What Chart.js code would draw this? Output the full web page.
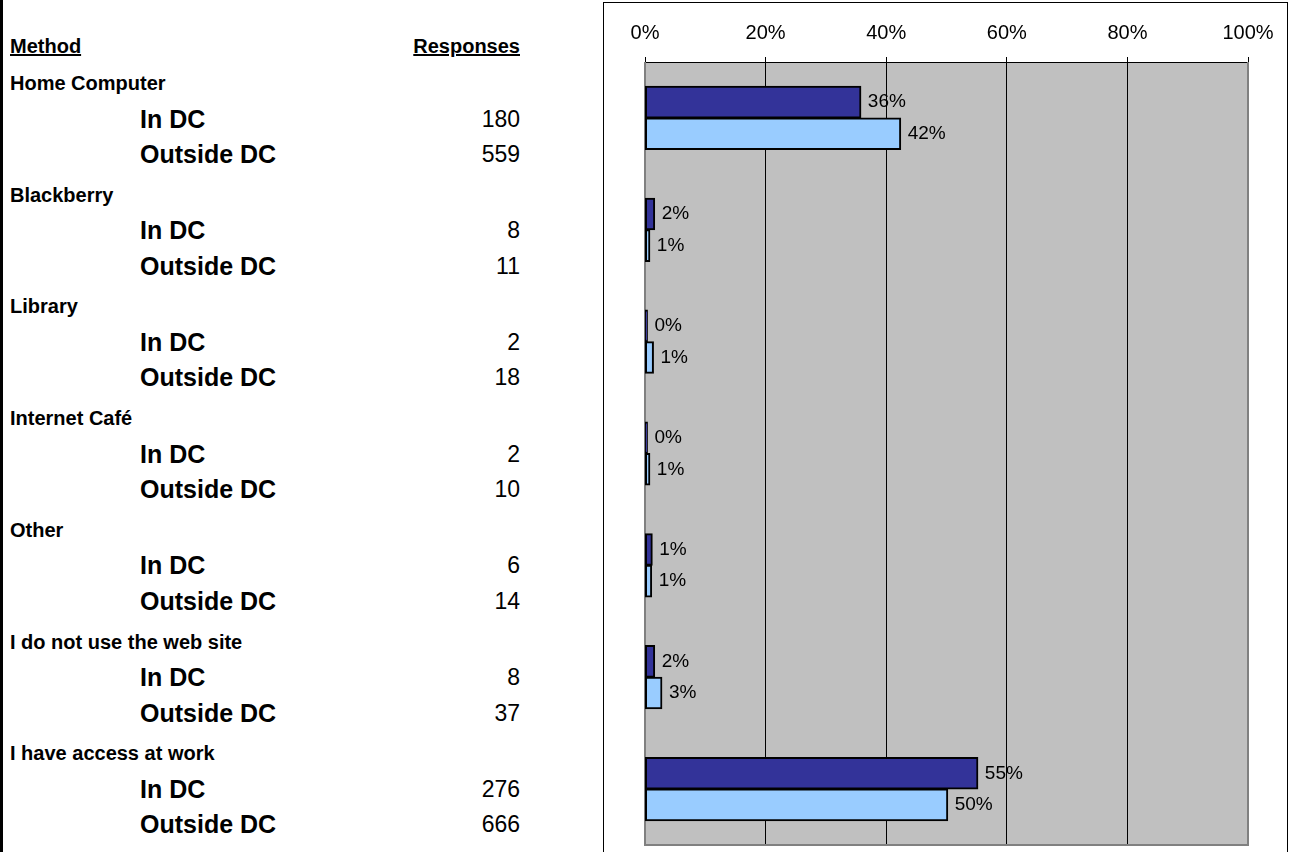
<!DOCTYPE html>
<html>
<head>
<meta charset="utf-8">
<script src="https://cdn.jsdelivr.net/npm/chart.js@4.4.1/dist/chart.umd.min.js"></script>
<style>
  html, body { margin: 0; padding: 0; background: #fff; overflow: hidden; }
  body { width: 1291px; height: 852px; position: relative; font-family: "Liberation Sans", Arial, sans-serif; color: #000; }
  #leftRule { position: absolute; left: 0; top: 0; width: 3px; height: 852px; background: #000; }
  .cell { position: absolute; white-space: nowrap; transform: translateY(-50%); line-height: 1; }
  .head { font-weight: bold; font-size: 20px; text-decoration: underline; }
  .group { font-weight: bold; font-size: 20px; left: 10px; }
  .sub { font-weight: bold; font-size: 25px; left: 140px; }
  .num { font-size: 23px; right: calc(1291px - 520px); }
  #frame { position: absolute; left: 603px; top: 2px; width: 685px; height: 900px; border: 1px solid #000; box-sizing: border-box; }
  #wrap { position: absolute; left: 604px; top: 3px; width: 683px; height: 849px; }
</style>
</head>
<body>
<div id="leftRule"></div>
<div id="table"></div>
<div id="frame"></div>
<div id="wrap"><canvas id="methodChart"></canvas></div>
<script>
/* ========= DATA ========= */
const methods = ["Home Computer", "Blackberry", "Library", "Internet Café", "Other", "I do not use the web site", "I have access at work"];
const inDcResponses = [180, 8, 2, 2, 6, 8, 276];
const outsideDcResponses = [559, 11, 18, 10, 14, 37, 666];
const inDcPct = [35.8, 1.6, 0.4, 0.4, 1.2, 1.6, 55.2];
const outsideDcPct = [42.4, 0.8, 1.4, 0.8, 1.1, 2.8, 50.2];
const xTicks = [0, 20, 40, 60, 80, 100];

const FONT = "'Liberation Sans', Arial, sans-serif";

/* ========= TABLE ========= */
function addCell(cls, text, top, left) {
  const d = document.createElement("div");
  d.className = "cell " + cls;
  d.textContent = text;
  d.style.top = top + "px";
  if (left !== undefined) d.style.left = left + "px";
  document.getElementById("table").appendChild(d);
  return d;
}

function buildTable() {
  addCell("head", "Method", 46, 10);
  addCell("head", "Responses", 46).style.right = (1291 - 520) + "px";

  const rowTop = 83, band = 111.7, step = 35.5;
  methods.forEach((m, i) => {
    const y = rowTop + i * band;
    addCell("group", m, y);
    addCell("sub", "In DC", y + step);
    addCell("num", inDcResponses[i], y + step);
    addCell("sub", "Outside DC", y + step * 2);
    addCell("num", outsideDcResponses[i], y + step * 2);
  });
}

/* ========= CHART ========= */
// grey plot fill + grey frame, drawn under the bars
const plotBack = {
  id: "plotBack",
  beforeDraw(chart) {
    const { ctx, chartArea: a } = chart;
    ctx.save();
    ctx.fillStyle = "#C0C0C0";
    ctx.fillRect(a.left, a.top, a.right - a.left, a.bottom - a.top);
    ctx.restore();
  },
  beforeDatasetsDraw(chart) {
    const { ctx, chartArea: a } = chart;
    ctx.save();
    ctx.strokeStyle = "#808080";
    ctx.lineWidth = 2;
    ctx.beginPath();
    ctx.moveTo(a.left, a.top);
    ctx.lineTo(a.left, a.bottom);
    ctx.lineTo(a.right, a.bottom);
    ctx.lineTo(a.right, a.top);
    ctx.stroke();
    ctx.restore();
  }
};

const valueLabels = {
  id: "valueLabels",
  afterDatasetsDraw(chart) {
    const { ctx } = chart;
    ctx.save();
    ctx.font = "19px " + FONT;
    ctx.fillStyle = "#000";
    ctx.textAlign = "left";
    ctx.textBaseline = "middle";
    chart.data.datasets.forEach((ds, di) => {
      chart.getDatasetMeta(di).data.forEach((bar, i) => {
        ctx.fillText(Math.round(ds.data[i]) + "%", bar.x + 7, bar.y);
      });
    });
    ctx.restore();
  }
};

function initChart() {
  new Chart(document.getElementById("methodChart"), {
    type: "bar",
    data: {
      labels: methods,
      datasets: [
        { label: "In DC", data: inDcPct, backgroundColor: "#333399" },
        { label: "Outside DC", data: outsideDcPct, backgroundColor: "#99CCFF" }
      ]
    },
    options: {
      indexAxis: "y",
      responsive: true,
      maintainAspectRatio: false,
      animation: false,
      layout: { padding: { left: 41, right: 39, top: 0, bottom: 7 } },
      datasets: {
        bar: {
          barPercentage: 1,
          categoryPercentage: 0.565,
          borderColor: "#000",
          borderWidth: 2,
          borderSkipped: false,
          inflateAmount: 0.5
        }
      },
      plugins: { legend: { display: false }, tooltip: { enabled: false } },
      scales: {
        x: {
          position: "top",
          min: 0,
          max: 100,
          afterBuildTicks: s => { s.ticks = xTicks.map(v => ({ value: v })); },
          afterFit: s => { s.height = 59; },
          ticks: {
            callback: v => v + "%",
            color: "#000",
            font: { family: FONT, size: 20 },
            padding: 12,
            maxRotation: 0
          },
          grid: { color: "#000", lineWidth: 1, tickLength: 5, drawOnChartArea: true },
          border: { display: true, color: "#000", width: 1 }
        },
        y: { display: false }
      }
    },
    plugins: [plotBack, valueLabels]
  });
}

window.onload = () => {
  buildTable();
  initChart();
};
</script>
</body>
</html>
